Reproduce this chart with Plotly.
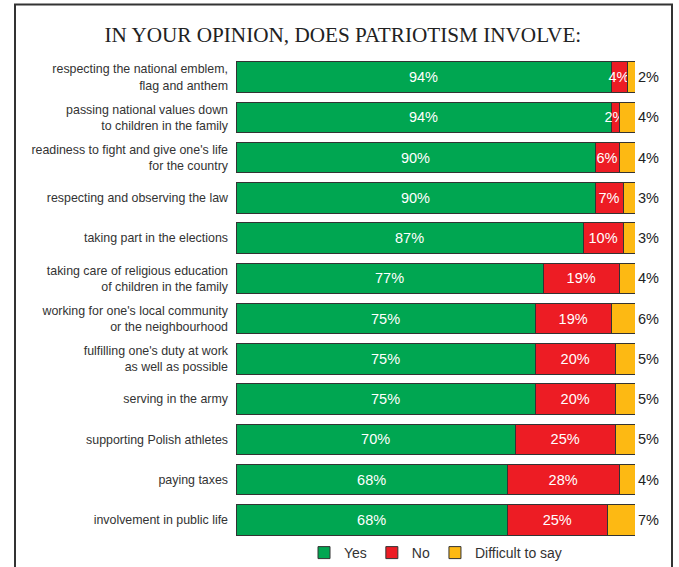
import plotly.graph_objects as go

categories = [
    "respecting the national emblem,<br>flag and anthem",
    "passing national values down<br>to children in the family",
    "readiness to fight and give one's life<br>for the country",
    "respecting and observing the law",
    "taking part in the elections",
    "taking care of religious education<br>of children in the family",
    "working for one's local community<br>or the neighbourhood",
    "fulfilling one's duty at work<br>as well as possible",
    "serving in the army",
    "supporting Polish athletes",
    "paying taxes",
    "involvement in public life",
]
yes_vals = [94, 94, 90, 90, 87, 77, 75, 75, 75, 70, 68, 68]
no_vals = [4, 2, 6, 7, 10, 19, 19, 20, 20, 25, 28, 25]
dk_vals = [2, 4, 4, 3, 3, 4, 6, 5, 5, 5, 4, 7]

title_text = "IN YOUR OPINION, DOES PATRIOTISM INVOLVE:"

W, H = 679, 567
L, R, T, B = 236, 44, 57, 27
pw, ph = W - L - R, H - T - B

def px_x(x):
    return (x - L) / pw

def px_y(y):
    return (H - B - y) / ph

line = dict(color="#333333", width=1)
fig = go.Figure()
fig.add_trace(go.Bar(
    y=categories, x=yes_vals, name="Yes", orientation="h",
    marker=dict(color="#00A651", line=line),
    text=[f"{v}%" for v in yes_vals], textposition="inside", textangle=0,
    insidetextanchor="middle",
    textfont=dict(color="white", size=14.5, family="Liberation Sans, Arial"),
    cliponaxis=False, hoverinfo="skip",
))
fig.add_trace(go.Bar(
    y=categories, x=no_vals, name="No", orientation="h",
    marker=dict(color="#ED1C24", line=line),
    text=[f"{v}%" for v in no_vals], textposition="inside", textangle=0,
    insidetextanchor="middle",
    textfont=dict(color="white", size=14.5, family="Liberation Sans, Arial"),
    cliponaxis=False, hoverinfo="skip",
))
fig.add_trace(go.Bar(
    y=categories, x=dk_vals, name="Difficult to say", orientation="h",
    marker=dict(color="#FDB913", line=line),
    text=[f"{v}%" for v in dk_vals], textposition="outside", textangle=0,
    textfont=dict(color="#222222", size=14.5, family="Liberation Sans, Arial"),
    cliponaxis=False, hoverinfo="skip",
))

fig.update_layout(
    width=W, height=H,
    margin=dict(l=L, r=R, t=T, b=B, pad=0, autoexpand=False),
    barmode="stack", bargap=0.24,
    paper_bgcolor="white", plot_bgcolor="white",
    font=dict(family="Liberation Sans, Arial", size=12, color="#333333"),
    uniformtext=dict(minsize=14.5, mode="show"),
    xaxis=dict(range=[0, 100], visible=False, fixedrange=True),
    yaxis=dict(autorange="reversed", showgrid=False, showline=False,
               ticks="", ticklabelstandoff=7,
               tickfont=dict(size=12.4, color="#333333")),
    showlegend=True,
    legend=dict(orientation="h", x=0.5, xanchor="center",
                y=px_y(553), yanchor="middle", traceorder="normal",
                font=dict(size=14, color="#333333"),
                itemwidth=30, tracegroupgap=0, bgcolor="rgba(0,0,0,0)"),
    title=dict(text=title_text, x=0.505, xanchor="center", xref="container",
               y=1 - 35 / H, yanchor="middle", yref="container",
               font=dict(family="Liberation Serif, Times New Roman", size=21.2, color="#222222")),
    shapes=[dict(type="rect", xref="paper", yref="paper",
                 x0=px_x(15), x1=px_x(672), y0=px_y(600), y1=px_y(4.5),
                 line=dict(color="#333333", width=2), fillcolor="rgba(0,0,0,0)",
                 layer="below")],
)

fig.write_html("out.html")
